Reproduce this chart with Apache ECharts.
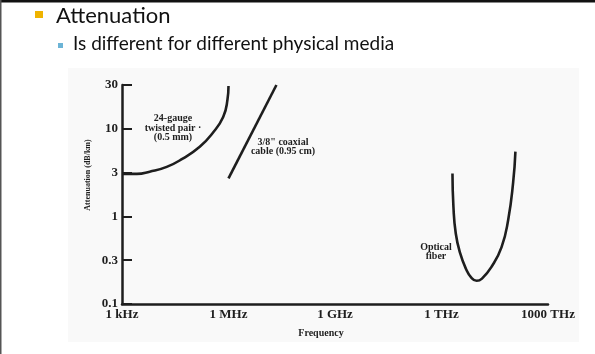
<!DOCTYPE html>
<html>
<head>
<meta charset="utf-8">
<script src="https://cdn.jsdelivr.net/npm/echarts@6/dist/echarts.min.js"></script>
<style>
html, body { margin: 0; padding: 0; background: #fff; }
#main { width: 595px; height: 354px; }
</style>
</head>
<body>
<div id="main"></div>
<script>
// tick labels (both axes are evenly spaced in the figure)
var xLabels = ["1 kHz", "1 MHz", "1 GHz", "1 THz", "1000 THz"];
var yLabels = ["0.1", "0.3", "1", "3", "10", "30"];

// curves, x = tick index (decades of 1000 Hz), y = tick index
var twistedPair = [[0, 2.97], [0.14, 2.97], [0.26, 3.02], [0.42, 3.13], [0.57, 3.32],
	[0.73, 3.59], [0.85, 3.9], [0.95, 4.27], [0.99, 4.66], [1.0, 4.98]];
var coaxial = [[1.0, 2.87], [1.45, 5.0]];
var opticalFiber = [[3.103, 2.98], [3.112, 2.22], [3.134, 1.61], [3.175, 1.16], [3.23, 0.8],
	[3.28, 0.6], [3.33, 0.53], [3.38, 0.58], [3.47, 0.85], [3.564, 1.3], [3.626, 1.92],
	[3.673, 2.78], [3.694, 3.48]];

var ink = "#1e1e1e";
var serif = "'Liberation Serif', 'DejaVu Serif', serif";

var myChart = echarts.init(document.getElementById("main"), null, { renderer: "canvas" });

function curve(name, data) {
	return {
		name : name,
		type : "line",
		data : data,
		smooth : 0.5,
		showSymbol : false,
		symbol : "none",
		lineStyle : { color : ink, width : 2.6 },
		z : 5
	};
}

function note(x, y, text) {
	return {
		type : "text",
		x : x,
		y : y,
		z : 10,
		style : {
			text : text,
			fill : ink,
			font : "bold 10px " + serif,
			align : "center",
			verticalAlign : "middle",
			lineHeight : 9.5
		}
	};
}

var option = {
	backgroundColor : "#ffffff",
	animation : false,
	grid : { left : 122, right : 47, top : 85, bottom : 50 },
	xAxis : {
		type : "value",
		min : 0,
		max : 4,
		interval : 1,
		name : "Frequency",
		nameLocation : "middle",
		nameGap : 24,
		nameTextStyle : { color : ink, fontFamily : serif, fontWeight : "bold", fontSize : 10, padding : [0, 28, 0, 0] },
		axisLine : { lineStyle : { color : ink, width : 2.5 } },
		axisTick : { show : false },
		splitLine : { show : false },
		axisLabel : {
			margin : 4,
			color : ink,
			fontFamily : serif,
			fontWeight : "bold",
			fontSize : 13,
			formatter : function(v) { return xLabels[v]; }
		}
	},
	yAxis : {
		type : "value",
		min : 0,
		max : 5,
		interval : 1,
		axisLine : { show : true, lineStyle : { color : ink, width : 2.5 } },
		axisTick : { show : true, inside : true, length : 10, lineStyle : { color : ink, width : 2 } },
		splitLine : { show : false },
		axisLabel : {
			margin : 4,
			color : ink,
			fontFamily : serif,
			fontWeight : "bold",
			fontSize : 13,
			formatter : function(v) { return yLabels[v]; }
		}
	},
	series : [
		curve("24-gauge twisted pair", twistedPair),
		curve("3/8\" coaxial cable", coaxial),
		curve("Optical fiber", opticalFiber)
	],
	graphic : [
		// scanned figure area and slide frame
		{ type : "rect", shape : { x : 68, y : 68, width : 511, height : 274 }, style : { fill : "#f9f9f9" }, z : -10 },
		{ type : "rect", shape : { x : 0, y : 0, width : 595, height : 2.5 }, style : { fill : "#111" }, z : 20 },
		{ type : "rect", shape : { x : 0, y : 0, width : 1.5, height : 354 }, style : { fill : "#555" }, z : 20 },
		// slide bullets and text
		{ type : "rect", shape : { x : 35, y : 11, width : 8, height : 7 }, style : { fill : "#efb300" } },
		{ type : "text", x : 56, y : 5, style : { text : "Attenuation", fill : "#111", font : "22px Lato, 'Open Sans', sans-serif", verticalAlign : "top" } },
		{ type : "rect", shape : { x : 58, y : 43, width : 5, height : 5 }, style : { fill : "#6cb4d6" } },
		{ type : "text", x : 73, y : 34, style : { text : "Is different for different physical media", fill : "#111", font : "19px Lato, 'Open Sans', sans-serif", verticalAlign : "top" } },
		// axis title (rotated)
		{ type : "text", x : 88, y : 175, rotation : Math.PI / 2, z : 10,
			style : { text : "Attenuation (dB/km)", fill : ink, font : "bold 8px " + serif, align : "center", verticalAlign : "middle" } },
		// curve annotations
		note(173, 128, "24-gauge\ntwisted pair \u00b7\n(0.5 mm)"),
		note(283, 147, "3/8\" coaxial\ncable (0.95 cm)"),
		note(436, 252, "Optical\nfiber")
	]
};
myChart.setOption(option);
</script>
</body>
</html>
